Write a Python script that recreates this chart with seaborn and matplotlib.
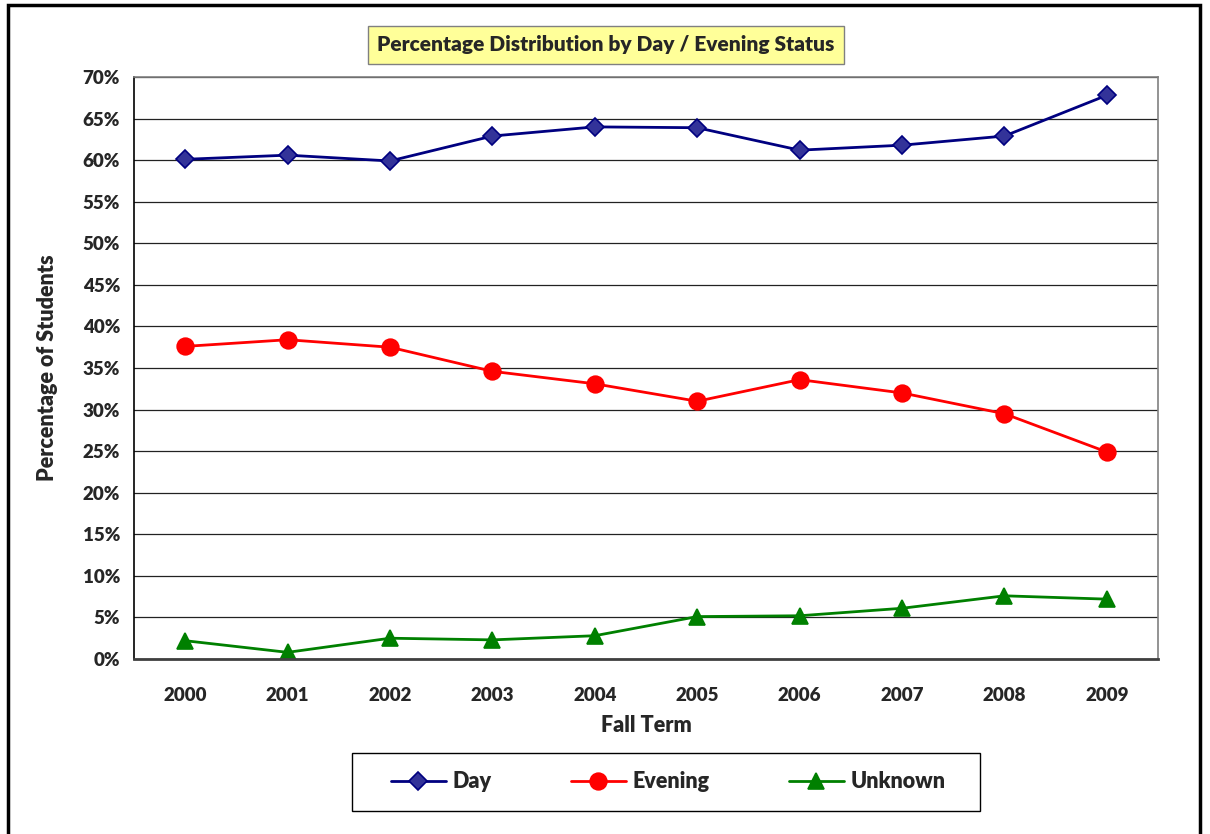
import matplotlib
matplotlib.use("Agg")
import matplotlib.pyplot as plt
import seaborn as sns
import pandas as pd
import numpy as np
from matplotlib.patches import Rectangle
from matplotlib.ticker import MultipleLocator, FuncFormatter

years = ["2000", "2001", "2002", "2003", "2004", "2005", "2006", "2007", "2008", "2009"]
day = [60.1, 60.6, 59.9, 62.9, 64.0, 63.9, 61.2, 61.8, 62.9, 67.8]
evening = [37.6, 38.4, 37.5, 34.6, 33.1, 31.0, 33.6, 32.0, 29.5, 24.9]
unknown = [2.2, 0.8, 2.5, 2.3, 2.8, 5.1, 5.2, 6.1, 7.6, 7.2]

series_names = ["Day", "Evening", "Unknown"]

sns.set_theme(style="white")
plt.rcParams["font.family"] = ["Lato", "DejaVu Sans"]
plt.rcParams["font.weight"] = "heavy"

rows = []
for name, vals in zip(series_names, [day, evening, unknown]):
    for i, v in enumerate(vals):
        rows.append({"pos": i, "Year": years[i], "Value": v, "Series": name})
df = pd.DataFrame(rows)

fig = plt.figure(figsize=(12.1, 8.34), dpi=100)
ax = fig.add_axes([134/1210, 1-659/834, (1158-134)/1210, (659-77)/834])

palette = {"Day": "#000080", "Evening": "#FF0000", "Unknown": "#008000"}
markers = {"Day": "D", "Evening": "o", "Unknown": "^"}
face = {"Day": "#333399", "Evening": "#FF0000", "Unknown": "#008000"}
msize = {"Day": 9, "Evening": 12, "Unknown": 12}

for name in series_names:
    sub = df[df["Series"] == name]
    sns.lineplot(data=sub, x="pos", y="Value", ax=ax, color=palette[name],
                 marker=markers[name], markersize=msize[name],
                 markerfacecolor=face[name], markeredgecolor=palette[name],
                 markeredgewidth=1.2, linewidth=2, label=name, sort=False)

W = "heavy"
ax.set_xlim(-0.5, 9.5)
ax.set_ylim(0, 70)
ax.set_xticks(range(len(years)))
ax.set_xticklabels(years, fontsize=13.5, fontweight=W)
ax.set_xticks(np.arange(-0.5, 10, 1), minor=True)
ax.tick_params(axis="x", which="major", length=0, pad=20)
ax.tick_params(axis="x", which="minor", length=7, width=1.2, color="#404040", direction="out")

ax.yaxis.set_major_locator(MultipleLocator(5))
ax.yaxis.set_minor_locator(MultipleLocator(1))
ax.yaxis.set_major_formatter(FuncFormatter(lambda v, p: f"{int(v)}%"))
ax.tick_params(axis="y", which="major", length=6, width=1, color="#000000", direction="out", labelsize=13.5, pad=4)
ax.tick_params(axis="y", which="minor", length=4, width=0.8, color="#404040", direction="inout")
for lbl in ax.get_yticklabels():
    lbl.set_fontweight(W)

ax.grid(axis="y", which="major", color="#222222", linewidth=0.9)
ax.grid(axis="x", visible=False)
ax.set_axisbelow(True)

for side in ["top", "right"]:
    ax.spines[side].set_color("#808080")
    ax.spines[side].set_linewidth(1.2)
ax.spines["bottom"].set_color("#404040")
ax.spines["bottom"].set_linewidth(2)
ax.spines["left"].set_color("#000000")
ax.spines["left"].set_linewidth(1.2)

ax.set_xlabel("Fall Term", fontsize=15.5, fontweight=W, labelpad=8)
ax.set_ylabel("Percentage of Students", fontsize=15.5, fontweight=W, labelpad=18)

fig.text(606/1210, 1-45/834, "Percentage Distribution by Day / Evening Status",
         ha="center", va="center", fontsize=15, fontweight=W,
         bbox=dict(boxstyle="square,pad=0.45", facecolor="#FFFF99", edgecolor="#808080", linewidth=1))

leg = ax.legend(loc="center", bbox_to_anchor=(668/1210, 1-782/834), bbox_transform=fig.transFigure,
                ncol=3, frameon=False,
                borderpad=0.0, columnspacing=3.7, handlelength=2.55, handletextpad=0.3,
                prop={"weight": W, "size": 15.5})

# legend frame
fig.patches.append(Rectangle((352/1210, 1-811/834), (980-352)/1210, (811-753)/834,
                             transform=fig.transFigure, fill=False, edgecolor="#000000",
                             linewidth=1, zorder=1))

fig.patches.append(Rectangle((8/1210, -0.05), (1200-8)/1210, 1.05-5/834,
                             transform=fig.transFigure, fill=False, edgecolor="black", linewidth=2.5))

fig.savefig("out.png", dpi=100)
